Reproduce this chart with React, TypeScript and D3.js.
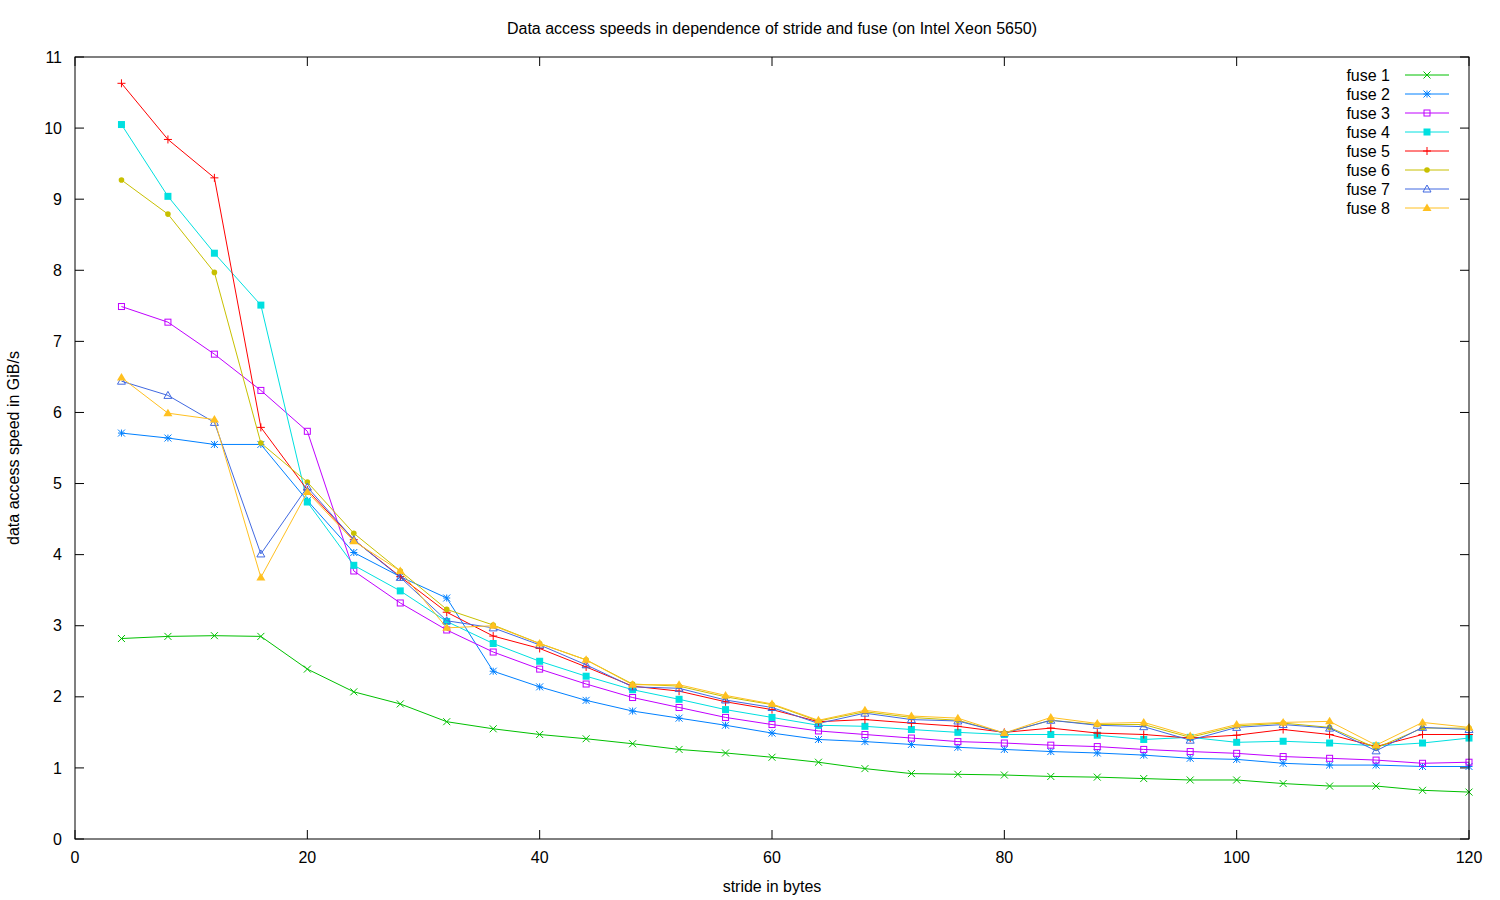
import React from 'react';
import * as d3 from 'd3';

// stride values (bytes) shared by every series
const strides = [4, 8, 12, 16, 20, 24, 28, 32, 36, 40, 44, 48, 52, 56, 60, 64, 68, 72, 76, 80, 84, 88, 92, 96, 100, 104, 108, 112, 116, 120];

const fuse1 = [2.82, 2.85, 2.86, 2.85, 2.39, 2.07, 1.9, 1.65, 1.55, 1.47, 1.41, 1.34, 1.26, 1.21, 1.15, 1.08, 0.99, 0.92, 0.91, 0.9, 0.88, 0.87, 0.85, 0.83, 0.83, 0.78, 0.745, 0.745, 0.685, 0.66];
const fuse2 = [5.71, 5.64, 5.55, 5.55, 4.76, 4.03, 3.69, 3.39, 2.36, 2.14, 1.95, 1.8, 1.7, 1.6, 1.49, 1.4, 1.37, 1.33, 1.29, 1.26, 1.23, 1.21, 1.18, 1.135, 1.12, 1.065, 1.04, 1.04, 1.02, 1.02];
const fuse3 = [7.49, 7.27, 6.82, 6.31, 5.735, 3.77, 3.32, 2.94, 2.63, 2.39, 2.18, 1.99, 1.85, 1.71, 1.61, 1.52, 1.47, 1.42, 1.37, 1.35, 1.32, 1.3, 1.26, 1.23, 1.205, 1.16, 1.135, 1.11, 1.065, 1.08];
const fuse4 = [10.05, 9.04, 8.24, 7.51, 4.74, 3.85, 3.49, 3.06, 2.75, 2.5, 2.29, 2.1, 1.965, 1.82, 1.71, 1.6, 1.585, 1.54, 1.5, 1.47, 1.47, 1.46, 1.4, 1.43, 1.36, 1.375, 1.35, 1.31, 1.35, 1.42];
const fuse5 = [10.63, 9.84, 9.3, 5.79, 4.91, 4.21, 3.69, 3.19, 2.855, 2.68, 2.42, 2.15, 2.08, 1.93, 1.82, 1.65, 1.68, 1.63, 1.585, 1.5, 1.56, 1.49, 1.47, 1.42, 1.46, 1.54, 1.47, 1.3, 1.47, 1.47];
const fuse6 = [9.27, 8.79, 7.97, 5.57, 5.02, 4.3, 3.77, 3.23, 3.01, 2.75, 2.52, 2.18, 2.15, 2.0, 1.89, 1.66, 1.79, 1.71, 1.67, 1.49, 1.67, 1.61, 1.61, 1.43, 1.59, 1.63, 1.57, 1.28, 1.56, 1.56];
const fuse7 = [6.44, 6.24, 5.86, 4.01, 4.95, 4.21, 3.68, 3.07, 2.97, 2.73, 2.45, 2.14, 2.12, 1.955, 1.85, 1.625, 1.77, 1.68, 1.66, 1.49, 1.67, 1.6, 1.58, 1.39, 1.57, 1.61, 1.56, 1.24, 1.57, 1.54];
const fuse8 = [6.49, 5.99, 5.9, 3.68, 4.88, 4.19, 3.77, 2.97, 3.0, 2.75, 2.52, 2.17, 2.17, 2.02, 1.9, 1.67, 1.81, 1.73, 1.7, 1.49, 1.71, 1.625, 1.64, 1.45, 1.61, 1.64, 1.655, 1.32, 1.64, 1.57];

const seriesNames = ['fuse 1', 'fuse 2', 'fuse 3', 'fuse 4', 'fuse 5', 'fuse 6', 'fuse 7', 'fuse 8'];
const seriesValues = [fuse1, fuse2, fuse3, fuse4, fuse5, fuse6, fuse7, fuse8];
const seriesColors = ['#00c000', '#0080ff', '#c000ff', '#00e0e0', '#ff0000', '#c8c000', '#4169e1', '#ffc020'];
// gnuplot point types: x, *, open square, filled square, +, filled dot, open triangle, filled triangle
const seriesMarkers = ['x', 'star', 'square', 'fsquare', 'plus', 'dot', 'tri', 'ftri'];

const xTicks = [0, 20, 40, 60, 80, 100, 120];
const yTicks = [0, 1, 2, 3, 4, 5, 6, 7, 8, 9, 10, 11];

const W = 1500;
const H = 900;
const margin = { left: 75, right: 31, top: 57, bottom: 61 };
const FONT = '"Liberation Sans", Arial, sans-serif';
const FS = 16;

function Marker({ kind, x, y, color }: { kind: string; x: number; y: number; color: string }) {
  const s = 3.5;
  switch (kind) {
    case 'x':
      return <path d={`M${x - s},${y - s}L${x + s},${y + s}M${x - s},${y + s}L${x + s},${y - s}`} stroke={color} strokeWidth={1} />;
    case 'plus':
      return <path d={`M${x - s - 0.5},${y}L${x + s + 0.5},${y}M${x},${y - s - 0.5}L${x},${y + s + 0.5}`} stroke={color} strokeWidth={1} />;
    case 'star':
      return (
        <path
          d={`M${x - s},${y - s}L${x + s},${y + s}M${x - s},${y + s}L${x + s},${y - s}M${x - s},${y}L${x + s},${y}M${x},${y - s}L${x},${y + s}`}
          stroke={color}
          strokeWidth={1}
        />
      );
    case 'square':
      return <rect x={x - 3} y={y - 3} width={6} height={6} fill="none" stroke={color} strokeWidth={1} />;
    case 'fsquare':
      return <rect x={x - 3.5} y={y - 3.5} width={7} height={7} fill={color} />;
    case 'dot':
      return <circle cx={x} cy={y} r={2.8} fill={color} />;
    case 'tri':
      return <path d={`M${x},${y - 4}L${x + 4},${y + 3}L${x - 4},${y + 3}Z`} fill="none" stroke={color} strokeWidth={1} />;
    case 'ftri':
      return <path d={`M${x},${y - 4.5}L${x + 4.5},${y + 3}L${x - 4.5},${y + 3}Z`} fill={color} />;
    default:
      return null;
  }
}

export default function App() {
  const x = d3.scaleLinear().domain([0, 120]).range([margin.left, W - margin.right]);
  const y = d3.scaleLinear().domain([0, 11]).range([H - margin.bottom, margin.top]);

  const line = d3
    .line<number>()
    .x((d, i) => x(strides[i]))
    .y((d) => y(d));

  const left = x.range()[0];
  const right = x.range()[1];
  const bottom = y.range()[0];
  const top = y.range()[1];
  const tick = 9;

  return (
    <div style={{ position: 'absolute', left: 0, top: 0 }}>
      <svg width={W} height={H} style={{ display: 'block', background: '#fff' }} fontFamily={FONT}>
        <rect x={0} y={0} width={W} height={H} fill="#fff" />

        {/* ticks, mirrored on both sides like gnuplot */}
        {yTicks.map((t) => (
          <g key={'y' + t}>
            <line x1={left} x2={left + tick} y1={y(t)} y2={y(t)} stroke="#000" />
            <line x1={right} x2={right - tick} y1={y(t)} y2={y(t)} stroke="#000" />
            <text x={left - 13} y={y(t)} dy="0.35em" textAnchor="end" fontSize={FS} fill="#000">
              {t}
            </text>
          </g>
        ))}
        {xTicks.map((t) => (
          <g key={'x' + t}>
            <line x1={x(t)} x2={x(t)} y1={bottom} y2={bottom - tick} stroke="#000" />
            <line x1={x(t)} x2={x(t)} y1={top} y2={top + tick} stroke="#000" />
            <text x={x(t)} y={bottom + 24} textAnchor="middle" fontSize={FS} fill="#000">
              {t}
            </text>
          </g>
        ))}

        {/* series */}
        {seriesValues.map((vals, si) => (
          <g key={seriesNames[si]}>
            <path d={line(vals) || ''} fill="none" stroke={seriesColors[si]} strokeWidth={1} />
            {vals.map((v, i) => (
              <Marker key={i} kind={seriesMarkers[si]} x={x(strides[i])} y={y(v)} color={seriesColors[si]} />
            ))}
          </g>
        ))}

        {/* legend */}
        {seriesNames.map((name, si) => {
          const ly = 75 + si * 19;
          return (
            <g key={'lg' + name}>
              <text x={1390} y={ly} dy="0.35em" textAnchor="end" fontSize={FS} fill="#000">
                {name}
              </text>
              <line x1={1405} x2={1449} y1={ly} y2={ly} stroke={seriesColors[si]} strokeWidth={1} />
              <Marker kind={seriesMarkers[si]} x={1427} y={ly} color={seriesColors[si]} />
            </g>
          );
        })}

        <rect x={left} y={top} width={right - left} height={bottom - top} fill="none" stroke="#000" strokeWidth={1} />

        <text x={(left + right) / 2} y={34} textAnchor="middle" fontSize={FS} fill="#000">
          Data access speeds in dependence of stride and fuse (on Intel Xeon 5650)
        </text>
        <text x={(left + right) / 2} y={892} textAnchor="middle" fontSize={FS} fill="#000">
          stride in bytes
        </text>
        <text
          transform={`translate(19,${(top + bottom) / 2}) rotate(-90)`}
          textAnchor="middle"
          fontSize={FS}
          fill="#000"
        >
          data access speed in GiB/s
        </text>
      </svg>
    </div>
  );
}
